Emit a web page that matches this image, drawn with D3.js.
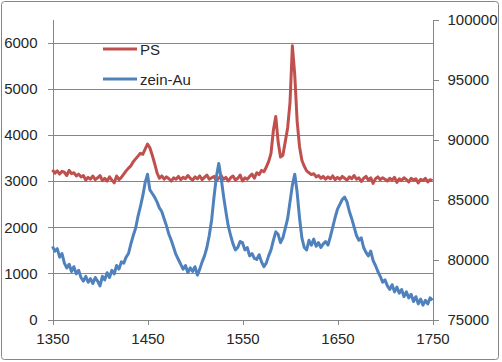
<!DOCTYPE html>
<html lang="en">
<head>
  <meta charset="UTF-8">
  <title>PS / zein-Au</title>
  <style>
    body {
      margin: 0;
      padding: 0;
      background: #fff;
    }
    svg text {
      font-family: "Liberation Sans", Arial, sans-serif;
      font-size: 15px;
      fill: #262626;
    }
    .axis path, .axis line {
      stroke: #868686;
      shape-rendering: crispEdges;
    }
    .grid line {
      stroke: #868686;
      shape-rendering: crispEdges;
    }
  </style>
</head>
<body>
  <svg id="chart" width="502" height="362"></svg>

  <script src="https://d3js.org/d3.v7.min.js"></script>
  <script>
    // wavenumbers (cm-1), one row = 25 cm-1
    const wavenumbers = [
      1350, 1352.5, 1355, 1357.5, 1360, 1362.5, 1365, 1367.5, 1370, 1372.5,
      1375, 1377.5, 1380, 1382.5, 1385, 1387.5, 1390, 1392.5, 1395, 1397.5,
      1400, 1402.5, 1405, 1407.5, 1410, 1412.5, 1415, 1417.5, 1420, 1422.5,
      1425, 1427.5, 1430, 1432.5, 1435, 1437.5, 1440, 1442.5, 1445, 1447.5,
      1450, 1452.5, 1455, 1457.5, 1460, 1462.5, 1465, 1467.5, 1470, 1472.5,
      1475, 1477.5, 1480, 1482.5, 1485, 1487.5, 1490, 1492.5, 1495, 1497.5,
      1500, 1502.5, 1505, 1507.5, 1510, 1512.5, 1515, 1517.5, 1520, 1522.5,
      1525, 1527.5, 1530, 1532.5, 1535, 1537.5, 1540, 1542.5, 1545, 1547.5,
      1550, 1552.5, 1555, 1557.5, 1560, 1562.5, 1565, 1567.5, 1570, 1572.5,
      1575, 1577.5, 1580, 1582.5, 1585, 1587.5, 1590, 1592.5, 1595, 1597.5,
      1600, 1602.5, 1605, 1607.5, 1610, 1612.5, 1615, 1617.5, 1620, 1622.5,
      1625, 1627.5, 1630, 1632.5, 1635, 1637.5, 1640, 1642.5, 1645, 1647.5,
      1650, 1652.5, 1655, 1657.5, 1660, 1662.5, 1665, 1667.5, 1670, 1672.5,
      1675, 1677.5, 1680, 1682.5, 1685, 1687.5, 1690, 1692.5, 1695, 1697.5,
      1700, 1702.5, 1705, 1707.5, 1710, 1712.5, 1715, 1717.5, 1720, 1722.5,
      1725, 1727.5, 1730, 1732.5, 1735, 1737.5, 1740, 1742.5, 1745, 1747.5,
      1750
    ];

    // PS intensity (left axis)
    const psValues = [
      3240, 3170, 3220, 3150, 3210, 3190, 3120, 3230, 3160, 3180,
      3110, 3150, 3090, 3120, 3020, 3080, 3040, 3110, 3030, 3070,
      3120, 3010, 3060, 3000, 3090, 3020, 2960, 3110, 3030, 3080,
      3150, 3220, 3280, 3330, 3420, 3480, 3540, 3600, 3580, 3690,
      3800, 3720, 3560, 3380, 3180, 3060, 3110, 3040, 3090, 3050,
      3000, 3070, 3040, 3100, 3030, 3080, 3050, 3120, 3060, 3020,
      3090, 3050, 3110, 3030, 3080, 3130, 3040, 3070, 3100, 3010,
      3060, 3120, 3040, 3080, 3000, 3070, 3110, 3020, 3060, 3130,
      3000, 3070, 3040, 3100, 3150, 3060, 3180, 3140, 3230, 3200,
      3300, 3420, 3600, 4100, 4400, 3850, 3520, 3560, 3850, 4150,
      4700, 5930, 5300, 4300, 3750, 3450, 3320, 3220, 3180, 3140,
      3160, 3090, 3120, 3060, 3100, 3040, 3090, 3050, 3110, 3030,
      3080, 3040, 3100, 3060, 3020, 3090, 3050, 3120, 3040, 3070,
      2990, 3060, 3100, 3020, 3070, 2950, 3050, 3090, 3030, 3070,
      3040, 3000, 3060, 3020, 3080, 2970, 3050, 3010, 3070, 3030,
      2980, 3060, 3020, 3050, 2960, 3040, 3010, 3060, 2980, 3030,
      3010
    ];

    // zein-Au intensity (right axis)
    const zeinValues = [
      81100, 80700, 80900, 80200, 80500, 79700, 79300, 79600, 79000, 79400,
      78800, 79100, 78500, 78200, 78600, 78100, 78400, 78000, 78500, 78200,
      77800, 78600, 78300, 78900, 78500, 79100, 78800, 79500, 79200, 79800,
      79700, 80200, 80500, 81300, 82000, 82600, 83600, 84400, 85300, 86400,
      87100, 85800, 85500, 85200, 84800, 84300, 84000, 83400, 82800, 82100,
      81600, 81000, 80400, 80000, 79600, 79200, 79500, 78900, 79300, 79000,
      79400, 78700, 79200, 79800, 80300, 81000, 82000, 83300, 85200, 86900,
      88000, 86800, 85300, 84000, 82800, 82000, 81300, 80800, 81000, 81500,
      81400, 80800, 81000, 80300, 80500, 80100, 80000, 80400, 79800, 79400,
      79700, 80300, 80800, 81600, 82300, 82100, 81400, 81800, 82600, 83400,
      84800, 86200, 87100, 85600, 83500, 81800, 81000, 80800, 81600, 81200,
      81700, 81100, 81400, 81000, 81300, 81500, 81200, 81900, 82700, 83500,
      84200, 84600, 85000, 85200, 84800, 84000, 83400, 82700, 82000, 81600,
      81800, 81000, 80600, 80300, 80700, 79900, 79500, 79000, 78600, 78100,
      78300, 77800, 77500, 77900, 77300, 77700, 77200, 77500, 76900, 77300,
      76800, 77100, 76500, 76900, 76300, 76700, 76200, 76600, 76300, 76800,
      76600
    ];

    const xTicks = [1350, 1450, 1550, 1650, 1750];
    const leftTicks = [0, 1000, 2000, 3000, 4000, 5000, 6000];
    const rightTicks = [75000, 80000, 85000, 90000, 95000, 100000];
    const seriesNames = ["PS", "zein-Au"];
    const seriesColors = ["#C0504D", "#4F81BD"];

    const plot = { left: 52.5, right: 432.5, top: 19.5, bottom: 319.5 };

    const svg = d3.select("#chart");

    // chart area border
    svg.append("rect")
      .attr("x", 1.5).attr("y", 1.5)
      .attr("width", 497).attr("height", 358)
      .attr("rx", 3)
      .attr("fill", "#fff")
      .attr("stroke", "#868686");

    const x = d3.scaleLinear().domain([1350, 1750]).range([plot.left, plot.right]);
    const yLeft = d3.scaleLinear().domain([0, 6500]).range([plot.bottom, plot.top]);
    const yRight = d3.scaleLinear().domain([75000, 100000]).range([plot.bottom, plot.top]);

    // horizontal gridlines
    svg.append("g").attr("class", "grid")
      .selectAll("line")
      .data(leftTicks.slice(1))
      .enter()
      .append("line")
      .attr("x1", plot.left).attr("x2", plot.right)
      .attr("y1", d => Math.round(yLeft(d)) + 0.5)
      .attr("y2", d => Math.round(yLeft(d)) + 0.5);

    // axes
    svg.append("g").attr("class", "axis")
      .attr("transform", `translate(${plot.left},0)`)
      .call(d3.axisLeft(yLeft).tickValues(leftTicks).tickSize(5).tickSizeOuter(0).tickPadding(10).tickFormat(d3.format("d")));

    svg.append("g").attr("class", "axis")
      .attr("transform", `translate(${plot.right},0)`)
      .call(d3.axisRight(yRight).tickValues(rightTicks).tickSize(6).tickSizeOuter(0).tickPadding(9).tickFormat(d3.format("d")));

    svg.append("g").attr("class", "axis")
      .attr("transform", `translate(0,${plot.bottom})`)
      .call(d3.axisBottom(x).tickValues(xTicks).tickSize(5).tickSizeOuter(0).tickPadding(9).tickFormat(d3.format("d")));

    svg.selectAll(".axis text").attr("font-family", null).attr("font-size", null);

    // lines
    const psLine = d3.line()
      .x((d, i) => x(wavenumbers[i]))
      .y(d => yLeft(d));

    const zeinLine = d3.line()
      .x((d, i) => x(wavenumbers[i]))
      .y(d => yRight(d));

    svg.append("path")
      .datum(psValues)
      .attr("d", psLine)
      .attr("fill", "none")
      .attr("stroke", seriesColors[0])
      .attr("stroke-width", 3)
      .attr("stroke-linejoin", "round");

    svg.append("path")
      .datum(zeinValues)
      .attr("d", zeinLine)
      .attr("fill", "none")
      .attr("stroke", seriesColors[1])
      .attr("stroke-width", 3)
      .attr("stroke-linejoin", "round");

    // legend
    const legend = svg.append("g")
      .selectAll("g")
      .data(seriesNames)
      .enter()
      .append("g")
      .attr("transform", (d, i) => `translate(103,${49 + i * 30})`);

    legend.append("line")
      .attr("x1", 0).attr("x2", 34)
      .attr("y1", 0).attr("y2", 0)
      .attr("stroke", (d, i) => seriesColors[i])
      .attr("stroke-width", 3);

    legend.append("text")
      .attr("x", 37)
      .attr("y", 5.5)
      .text(d => d);
  </script>
</body>
</html>
